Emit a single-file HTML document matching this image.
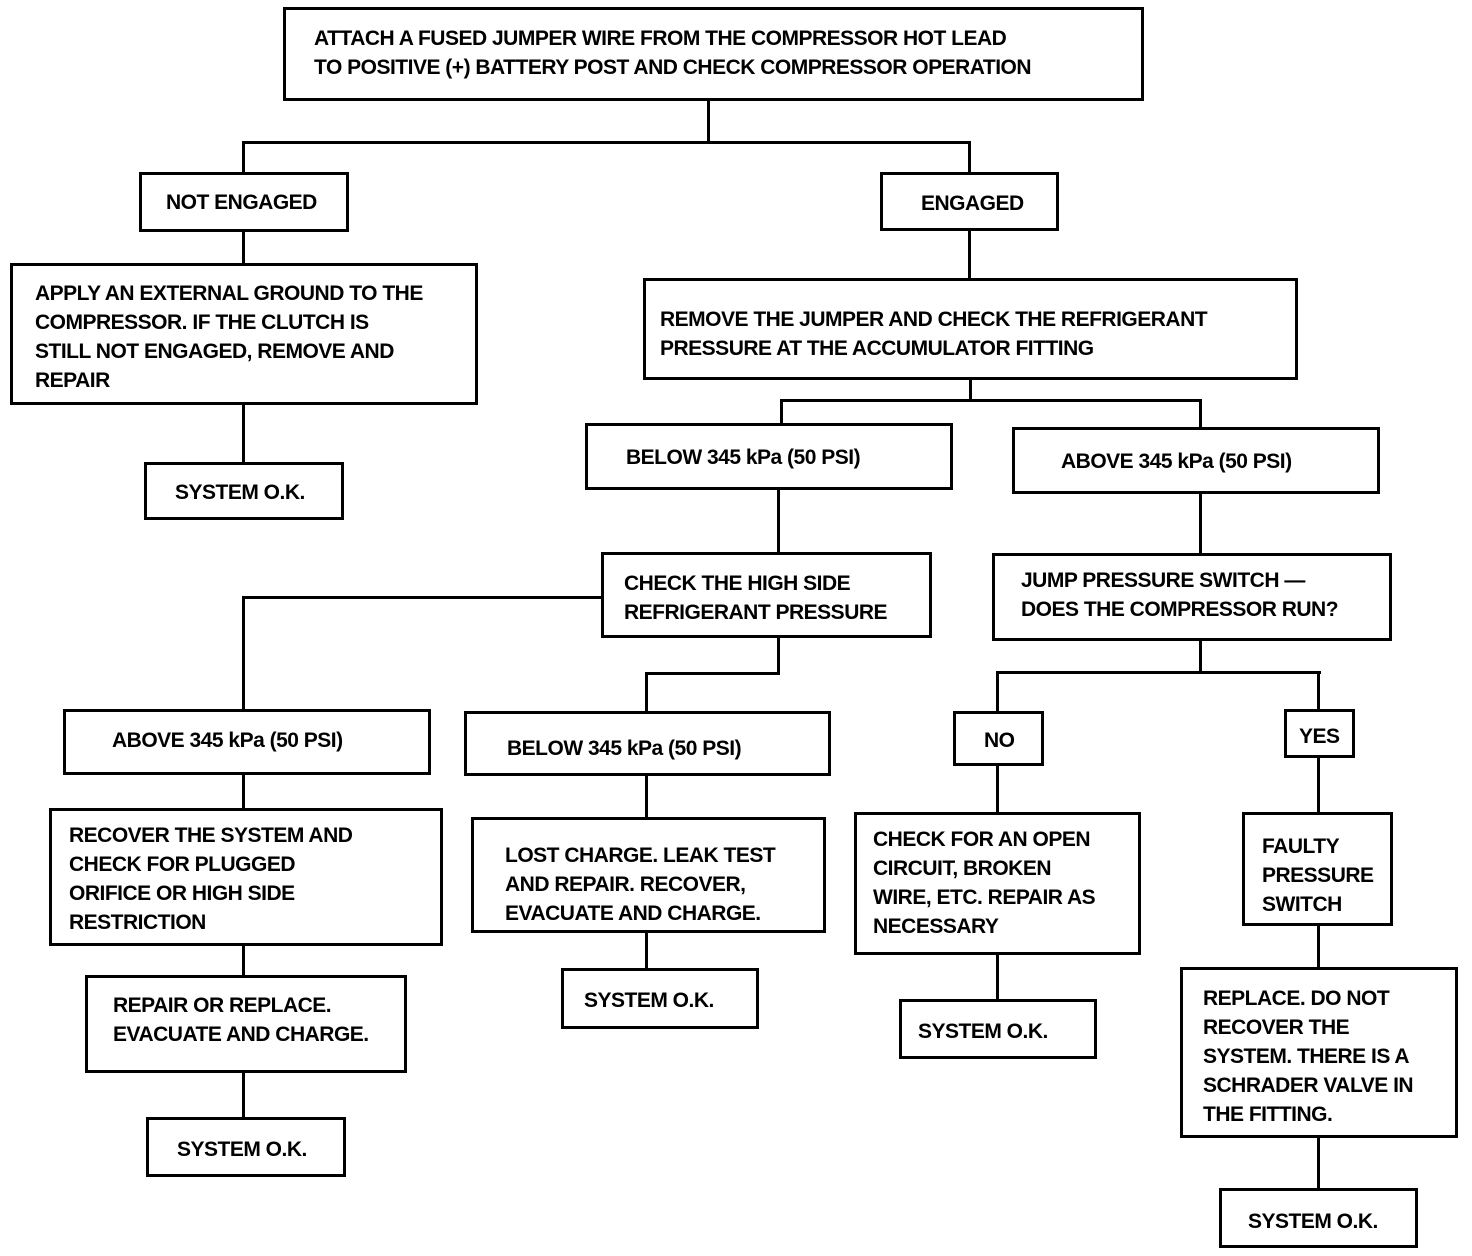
<!DOCTYPE html>
<html><head><meta charset="utf-8"><style>
body{margin:0;background:#fff;}
#c{position:relative;width:1472px;height:1256px;overflow:hidden;background:#fff;}
.b{position:absolute;border:3px solid #000;box-sizing:border-box;font-family:"Liberation Sans",sans-serif;font-weight:bold;font-size:21px;line-height:29px;color:#000;white-space:nowrap;transform-origin:0 0;}
.b span{position:absolute;letter-spacing:-0.5px;}
.h,.v{position:absolute;background:#000;}
.h{height:3px}.v{width:3px}
</style></head><body><div id="c">
<!-- connectors -->
<div class="v" style="left:707px;top:100px;height:43px"></div>
<div class="h" style="left:242px;top:141px;width:729px"></div>
<div class="v" style="left:242px;top:141px;height:32px"></div>
<div class="v" style="left:968px;top:141px;height:32px"></div>
<div class="v" style="left:242px;top:231px;height:33px"></div>
<div class="v" style="left:242px;top:404px;height:59px"></div>
<div class="v" style="left:968px;top:230px;height:49px"></div>
<div class="v" style="left:969px;top:379px;height:22px"></div>
<div class="h" style="left:780px;top:399px;width:422px"></div>
<div class="v" style="left:780px;top:399px;height:25px"></div>
<div class="v" style="left:1199px;top:399px;height:29px"></div>
<div class="v" style="left:777px;top:489px;height:64px"></div>
<div class="h" style="left:242px;top:596px;width:360px"></div>
<div class="v" style="left:242px;top:596px;height:114px"></div>
<div class="v" style="left:777px;top:637px;height:37px"></div>
<div class="h" style="left:645px;top:672px;width:135px"></div>
<div class="v" style="left:645px;top:672px;height:40px"></div>
<div class="v" style="left:1199px;top:493px;height:61px"></div>
<div class="v" style="left:1199px;top:640px;height:33px"></div>
<div class="h" style="left:996px;top:671px;width:325px"></div>
<div class="v" style="left:996px;top:671px;height:41px"></div>
<div class="v" style="left:1317px;top:671px;height:39px"></div>
<div class="v" style="left:242px;top:774px;height:35px"></div>
<div class="v" style="left:242px;top:945px;height:31px"></div>
<div class="v" style="left:242px;top:1072px;height:46px"></div>
<div class="v" style="left:645px;top:775px;height:43px"></div>
<div class="v" style="left:645px;top:932px;height:37px"></div>
<div class="v" style="left:996px;top:765px;height:48px"></div>
<div class="v" style="left:996px;top:954px;height:46px"></div>
<div class="v" style="left:1317px;top:757px;height:56px"></div>
<div class="v" style="left:1317px;top:925px;height:43px"></div>
<div class="v" style="left:1317px;top:1137px;height:52px"></div>
<!-- boxes -->
<div class="b" style="left:283px;top:7px;width:861px;height:94px"><span style="left:28px;top:14px">ATTACH A FUSED JUMPER WIRE FROM THE COMPRESSOR HOT LEAD<br>TO POSITIVE (+) BATTERY POST AND CHECK COMPRESSOR OPERATION</span></div>
<div class="b" style="left:139px;top:172px;width:210px;height:60px"><span style="left:24px;top:13px">NOT ENGAGED</span></div>
<div class="b" style="left:880px;top:172px;width:179px;height:59px"><span style="left:38px;top:14px">ENGAGED</span></div>
<div class="b" style="left:10px;top:263px;width:468px;height:142px"><span style="left:22px;top:13px">APPLY AN EXTERNAL GROUND TO THE<br>COMPRESSOR. IF THE CLUTCH IS<br>STILL NOT ENGAGED, REMOVE AND<br>REPAIR</span></div>
<div class="b" style="left:144px;top:462px;width:200px;height:58px"><span style="left:28px;top:13px">SYSTEM O.K.</span></div>
<div class="b" style="left:643px;top:278px;width:655px;height:102px"><span style="left:14px;top:24px">REMOVE THE JUMPER AND CHECK THE REFRIGERANT<br>PRESSURE AT THE ACCUMULATOR FITTING</span></div>
<div class="b" style="left:585px;top:423px;width:368px;height:67px"><span style="left:38px;top:17px">BELOW 345 kPa (50 PSI)</span></div>
<div class="b" style="left:1012px;top:427px;width:368px;height:67px"><span style="left:46px;top:17px">ABOVE 345 kPa (50 PSI)</span></div>
<div class="b" style="left:601px;top:552px;width:331px;height:86px"><span style="left:20px;top:14px">CHECK THE HIGH SIDE<br>REFRIGERANT PRESSURE</span></div>
<div class="b" style="left:992px;top:553px;width:400px;height:88px"><span style="left:26px;top:10px">JUMP PRESSURE SWITCH —<br>DOES THE COMPRESSOR RUN?</span></div>
<div class="b" style="left:63px;top:709px;width:368px;height:66px"><span style="left:46px;top:14px">ABOVE 345 kPa (50 PSI)</span></div>
<div class="b" style="left:464px;top:711px;width:367px;height:65px"><span style="left:40px;top:20px">BELOW 345 kPa (50 PSI)</span></div>
<div class="b" style="left:953px;top:711px;width:91px;height:55px"><span style="left:28px;top:12px">NO</span></div>
<div class="b" style="left:1284px;top:709px;width:71px;height:49px"><span style="left:12px;top:10px">YES</span></div>
<div class="b" style="left:49px;top:808px;width:394px;height:138px"><span style="left:17px;top:10px">RECOVER THE SYSTEM AND<br>CHECK FOR PLUGGED<br>ORIFICE OR HIGH SIDE<br>RESTRICTION</span></div>
<div class="b" style="left:471px;top:817px;width:355px;height:116px"><span style="left:31px;top:21px">LOST CHARGE. LEAK TEST<br>AND REPAIR. RECOVER,<br>EVACUATE AND CHARGE.</span></div>
<div class="b" style="left:854px;top:812px;width:287px;height:143px"><span style="left:16px;top:10px">CHECK FOR AN OPEN<br>CIRCUIT, BROKEN<br>WIRE, ETC. REPAIR AS<br>NECESSARY</span></div>
<div class="b" style="left:1242px;top:812px;width:151px;height:114px"><span style="left:17px;top:17px">FAULTY<br>PRESSURE<br>SWITCH</span></div>
<div class="b" style="left:85px;top:975px;width:322px;height:98px"><span style="left:25px;top:13px">REPAIR OR REPLACE.<br>EVACUATE AND CHARGE.</span></div>
<div class="b" style="left:561px;top:968px;width:198px;height:61px"><span style="left:20px;top:15px">SYSTEM O.K.</span></div>
<div class="b" style="left:899px;top:999px;width:198px;height:60px"><span style="left:16px;top:15px">SYSTEM O.K.</span></div>
<div class="b" style="left:1180px;top:967px;width:278px;height:171px"><span style="left:20px;top:14px">REPLACE. DO NOT<br>RECOVER THE<br>SYSTEM. THERE IS A<br>SCHRADER VALVE IN<br>THE FITTING.</span></div>
<div class="b" style="left:146px;top:1117px;width:200px;height:60px"><span style="left:28px;top:15px">SYSTEM O.K.</span></div>
<div class="b" style="left:1219px;top:1188px;width:199px;height:60px"><span style="left:26px;top:16px">SYSTEM O.K.</span></div>
</div></body></html>
